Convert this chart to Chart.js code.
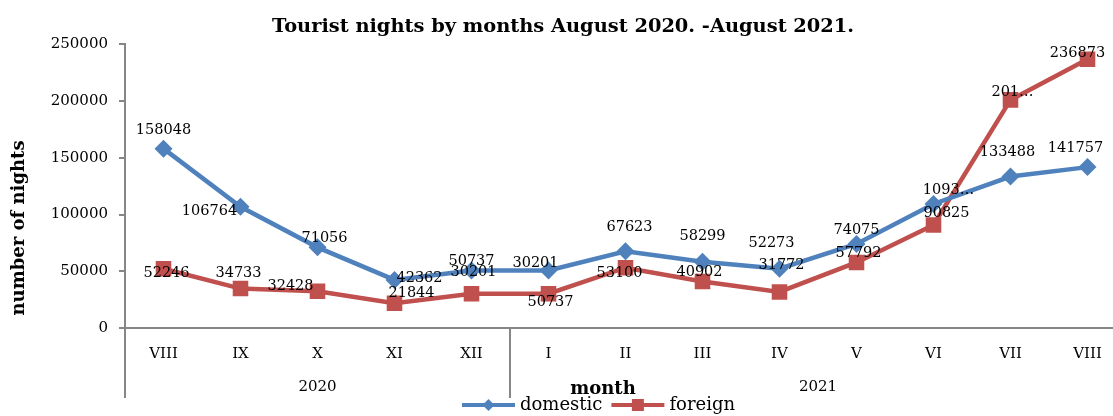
<!DOCTYPE html>
<html>
<head>
<meta charset="utf-8">
<script src="https://cdn.jsdelivr.net/npm/chart.js@4.4.1/dist/chart.umd.min.js"></script>
<style>
  html, body { margin: 0; padding: 0; background: #fff; overflow: hidden; }
  #wrap { width: 1140px; height: 416px; }
</style>
</head>
<body>
<div id="wrap"><canvas id="nightsChart"></canvas></div>
<script>
// data
const months = ['VIII', 'IX', 'X', 'XI', 'XII', 'I', 'II', 'III', 'IV', 'V', 'VI', 'VII', 'VIII'];
const yearNames = ['2020', '2021'];
const monthsPerYear = [5, 8];
const domestic = [158048, 106764, 71056, 42362, 50737, 50737, 67623, 58299, 52273, 74075, 109300, 133488, 141757];
const foreign = [52246, 34733, 32428, 21844, 30201, 30201, 53100, 40902, 31772, 57792, 90825, 201000, 236873];
// label texts as printed on the original chart
const domesticText = ['158048', '106764', '71056', '42362', '50737', '30201', '67623', '58299', '52273', '74075', '1093…', '133488', '141757'];
const foreignText = ['52246', '34733', '32428', '21844', '30201', '50737', '53100', '40902', '31772', '57792', '90825', '201…', '236873'];
const yTicks = [0, 50000, 100000, 150000, 200000, 250000];

// label offsets from the point (px)
const domesticDx = [0, -31, 7, 25, 0, -13, 4, 0, -8, 0, 15, -3, -12];
const domesticDy = [-18, 4, -9, -2, -9, -7, -24, -26, -25, -14, -14, -24, -19];
const foreignDx = [3, -2, -27, 17, 2, 2, -6, -3, 2, 2, 13, 2, -10];
const foreignDy = [5, -15, -5, -10, -21, 9, 5, -9, -27, -9, -12, -8, -6];

const BLUE = '#4F81BD';
const RED = '#C0504D';
const AXIS = '#868686';
const FONT = 'DejaVu Serif';

const pointLabels = {
  id: 'pointLabels',
  afterDatasetsDraw(chart) {
    const ctx = chart.ctx;
    const sets = [[domesticText, domesticDx, domesticDy], [foreignText, foreignDx, foreignDy]];
    ctx.save();
    ctx.font = '14.5px "' + FONT + '"';
    ctx.fillStyle = '#000';
    ctx.textAlign = 'center';
    ctx.textBaseline = 'middle';
    sets.forEach((s, di) => {
      chart.getDatasetMeta(di).data.forEach((pt, i) => {
        ctx.fillText(s[0][i], pt.x + s[1][i], pt.y + s[2][i]);
      });
    });
    ctx.restore();
  }
};

const axisExtras = {
  id: 'axisExtras',
  afterDraw(chart) {
    const ctx = chart.ctx;
    const x = chart.scales.x;
    const area = chart.chartArea;
    const lineBottom = 398;
    ctx.save();
    ctx.strokeStyle = AXIS;
    ctx.lineWidth = 2;
    // year group dividers
    let start = 0;
    const bounds = [area.left];
    monthsPerYear.forEach((n) => {
      start += n;
      if (start < months.length) {
        bounds.push((x.getPixelForValue(start - 1) + x.getPixelForValue(start)) / 2);
      }
    });
    bounds.forEach((bx) => {
      ctx.beginPath();
      ctx.moveTo(bx, area.bottom);
      ctx.lineTo(bx, lineBottom);
      ctx.stroke();
    });
    // year names
    ctx.fillStyle = '#000';
    ctx.font = '15px "' + FONT + '"';
    ctx.textAlign = 'center';
    ctx.textBaseline = 'middle';
    start = 0;
    yearNames.forEach((name, k) => {
      const first = start, last = start + monthsPerYear[k] - 1;
      const cx = (x.getPixelForValue(first) + x.getPixelForValue(last)) / 2;
      ctx.fillText(name, cx, 387);
      start += monthsPerYear[k];
    });
    // axis titles
    ctx.font = 'bold 18px "' + FONT + '"';
    ctx.fillText('month', 603, 389);
    ctx.save();
    ctx.translate(19, 228);
    ctx.rotate(-Math.PI / 2);
    ctx.fillText('number of nights', 0, 0);
    ctx.restore();
    // legend
    ctx.font = '18px "' + FONT + '"';
    ctx.textAlign = 'left';
    const ly = 405;
    let lx = 462;
    const items = [['domestic', BLUE, 'diamond'], ['foreign', RED, 'square']];
    items.forEach((it) => {
      ctx.strokeStyle = it[1];
      ctx.fillStyle = it[1];
      ctx.lineWidth = 4;
      ctx.beginPath();
      ctx.moveTo(lx, ly);
      ctx.lineTo(lx + 53, ly);
      ctx.stroke();
      const mx = lx + 26.5;
      ctx.beginPath();
      if (it[2] === 'diamond') {
        ctx.moveTo(mx - 6, ly); ctx.lineTo(mx, ly - 6); ctx.lineTo(mx + 6, ly); ctx.lineTo(mx, ly + 6);
      } else {
        ctx.rect(mx - 6, ly - 6, 12, 12);
      }
      ctx.closePath();
      ctx.fill();
      ctx.fillStyle = '#000';
      ctx.fillText(it[0], lx + 58, ly);
      lx += 58 + ctx.measureText(it[0]).width + 9;
    });
    ctx.restore();
  }
};

new Chart(document.getElementById('nightsChart').getContext('2d'), {
  type: 'line',
  data: {
    labels: months,
    datasets: [{
      label: 'domestic',
      data: domestic,
      borderColor: BLUE,
      backgroundColor: BLUE,
      borderWidth: 4.5,
      pointStyle: 'rectRot',
      pointRadius: 9,
      pointHoverRadius: 9,
      pointBorderWidth: 0,
      tension: 0
    }, {
      label: 'foreign',
      data: foreign,
      borderColor: RED,
      backgroundColor: RED,
      borderWidth: 4.5,
      pointStyle: 'rect',
      pointRadius: 11,
      pointHoverRadius: 11,
      pointBorderWidth: 0,
      tension: 0
    }]
  },
  options: {
    responsive: true,
    maintainAspectRatio: false,
    animation: false,
    layout: { padding: { left: 0, right: 14, top: 0, bottom: 0 } },
    plugins: {
      legend: { display: false },
      tooltip: { enabled: false },
      title: {
        display: true,
        text: 'Tourist nights by months August 2020. -August 2021.',
        color: '#000',
        font: { family: FONT, size: 19.4, weight: 'bold' },
        padding: { top: 15, bottom: 6 }
      }
    },
    scales: {
      x: {
        offset: true,
        grid: { display: false, drawTicks: false },
        border: { display: true, color: AXIS, width: 2 },
        ticks: { color: '#000', font: { family: FONT, size: 15 }, padding: 17, autoSkip: false, maxRotation: 0 },
        afterFit(scale) { scale.height = 88; }
      },
      y: {
        min: 0,
        max: 250000,
        afterBuildTicks(scale) { scale.ticks = yTicks.map(v => ({ value: v })); },
        grid: { drawOnChartArea: false, drawTicks: true, tickLength: 6, color: AXIS, lineWidth: 2 },
        border: { display: true, color: AXIS, width: 2 },
        ticks: { color: '#000', font: { family: FONT, size: 15 }, padding: 11, callback: (v) => String(v) },
        afterFit(scale) { scale.width = 125; }
      }
    }
  },
  plugins: [pointLabels, axisExtras]
});
</script>
</body>
</html>
